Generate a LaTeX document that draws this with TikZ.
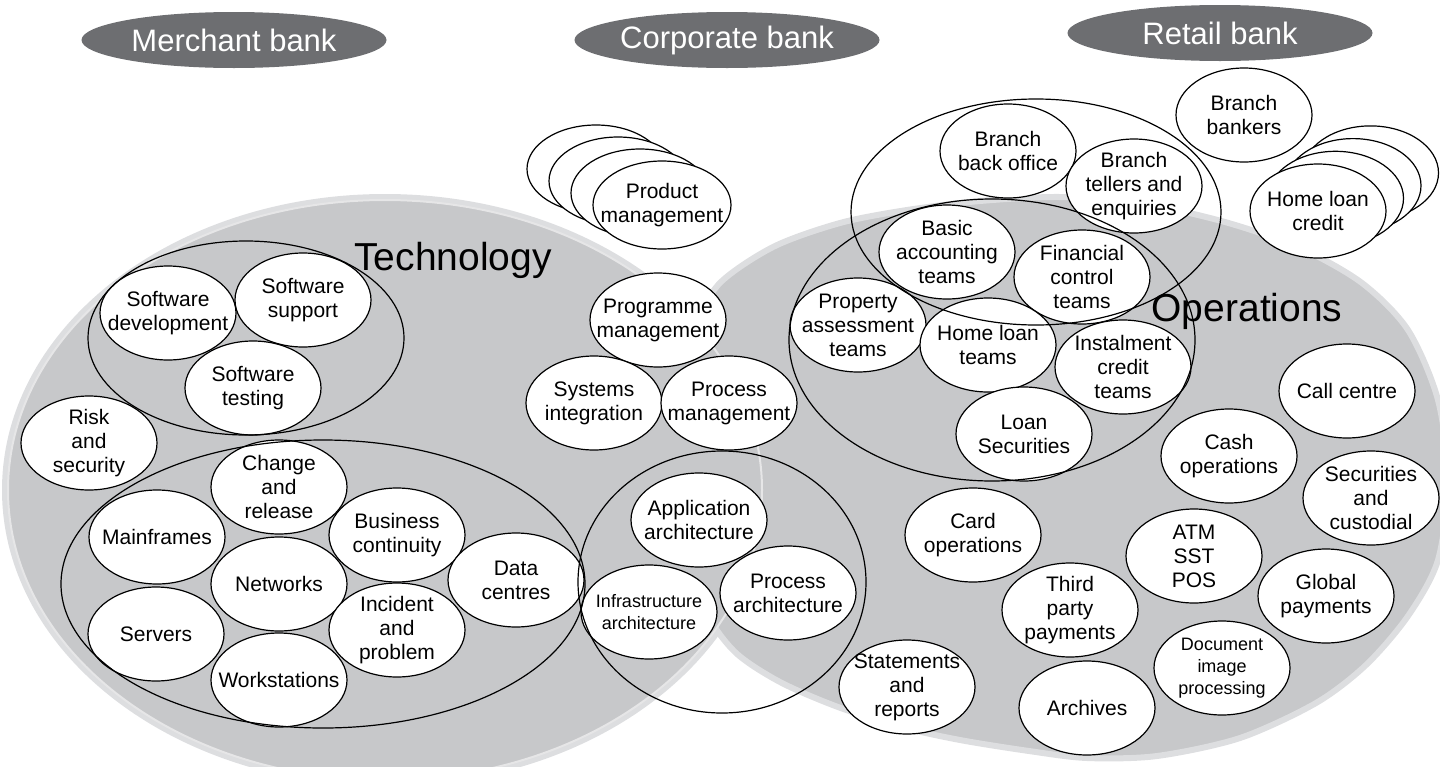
\documentclass[tikz,border=0pt]{standalone}
\usepackage{fontspec}
\setmainfont{Liberation Sans}
\usetikzlibrary{shapes.geometric,calc}

\definecolor{bankgrey}{HTML}{6D6E71}
\definecolor{areagrey}{HTML}{C7C8CA}
\definecolor{rimgrey}{HTML}{DDDEE0}

\tikzset{
  unit/.style={ellipse, draw, fill=white, line width=0.6pt,
    minimum width=68pt, minimum height=47pt, inner xsep=-10pt, inner ysep=-8pt,
    align=center, font=\fontsize{10.5}{12}\selectfont},
  smallunit/.style={unit, font=\fontsize{9}{11}\selectfont},
  bank/.style={ellipse, fill=bankgrey, text=white, minimum width=152.5pt,
    minimum height=28pt, inner sep=0pt, font=\fontsize{15.5}{18}\selectfont},
  area/.style={anchor=base, font=\fontsize{19.5}{22}\selectfont},
  group/.style={draw, line width=0.6pt}
}

\begin{document}
\begin{tikzpicture}[x=0.5pt, y=-0.5pt]
  \useasboundingbox (0,0) rectangle (1440,766);

  % the two big areas
  \fill[rimgrey] (385,490) ellipse [x radius=383, y radius=296];
  \filldraw[fill=areagrey, draw=rimgrey, line width=3pt]
    plot[smooth cycle] coordinates {(700,330) (718,285) (773,247) (840,223)
      (907,210) (980,201) (1060,197) (1140,203) (1225,222) (1300,248)
      (1362,283) (1408,330) (1438,400) (1448,480) (1438,560) (1408,616)
      (1366,665) (1316,703) (1240,738) (1157,756) (1087,758) (1029,751)
      (960,740) (901,727) (838,707) (780,682) (735,652) (706,610) (692,540)
      (688,450)};
  \filldraw[fill=areagrey, draw=white!55!areagrey, line width=1pt]
    (385,490) ellipse [x radius=377, y radius=290];

  \node[area] (techlabel) at (453,270) {Technology};
  \node[area] (opslabel) at (1247,321) {Operations};

  \node[bank] (merchant) at (234,40) {Merchant bank};
  \node[bank] (corporate) at (727,40) {Corporate bank};
  \node[bank] (retail) at (1220,33) {Retail bank};

  % technology
  \node[unit] (sdev) at (168,313) {Software\\development};
  \node[unit] (ssup) at (303,300) {Software\\support};
  \node[unit] (stest) at (253,388) {Software\\testing};
  \node[unit] (risk) at (89,443) {Risk\\and\\security};
  \node[unit] (change) at (279,487) {Change\\and\\release};
  \node[unit] (mainf) at (157,537) {Mainframes};
  \node[unit] (bcont) at (397,535) {Business\\continuity};
  \node[unit] (netw) at (279,584) {Networks};
  \node[unit] (datac) at (516,580) {Data\\centres};
  \node[unit] (serv) at (156,634) {Servers};
  \node[unit] (incid) at (397,630) {Incident\\and\\problem};
  \node[unit] (works) at (279,680) {Workstations};

  % corporate
  \foreach \k in {3,2,1}
    \node[unit, minimum width=69pt, minimum height=44pt] (prodback\k)
      at ($(662,205)+(-22*\k,-12*\k)$) {};
  \node[unit, minimum width=69pt, minimum height=44pt] (prod) at (662,205)
    {Product\\management};
  \node[unit] (progm) at (658,320) {Programme\\management};
  \node[unit] (sysint) at (594,403) {Systems\\integration};
  \node[unit] (procm) at (729,403) {Process\\management};
  \node[unit] (apparch) at (699,520) {Application\\architecture};
  \node[smallunit] (infarch) at (649,612) {Infrastructure\\architecture};
  \node[unit] (procarch) at (788,593) {Process\\architecture};

  % retail
  \node[unit] (bback) at (1008,151) {Branch\\back office};
  \node[unit] (btell) at (1134,186) {Branch\\tellers and\\enquiries};
  \node[unit] (bbank) at (1244,115) {Branch\\bankers};
  \foreach \k in {3,2,1}
    \node[unit] (hlcback\k) at ($(1318,211)+(17.5*\k,-12.7*\k)$) {};
  \node[unit] (hlc) at (1318,211) {Home loan\\credit};
  \node[unit] (basic) at (947,252) {Basic\\accounting\\teams};
  \node[unit] (finc) at (1082,277) {Financial\\control\\teams};
  \node[unit] (prop) at (858,325) {Property\\assessment\\teams};
  \node[unit] (hlt) at (988,345) {Home loan\\teams};
  \node[unit] (inst) at (1123,367) {Instalment\\credit\\teams};
  \node[unit] (loansec) at (1024,434) {Loan\\Securities};
  \node[unit] (call) at (1347,391) {Call centre};
  \node[unit] (cash) at (1229,456) {Cash\\operations};
  \node[unit] (secc) at (1371,498) {Securities\\and\\custodial};
  \node[unit] (card) at (973,535) {Card\\operations};
  \node[unit] (atm) at (1194,556) {ATM\\SST\\POS};
  \node[unit] (third) at (1070,610) {Third\\party\\payments};
  \node[unit] (glob) at (1326,596) {Global\\payments};
  \node[unit] (stmt) at (907,687) {Statements\\and\\reports};
  \node[smallunit] (doc) at (1222,668) {Document\\image\\processing};
  \node[unit] (arch) at (1087,708) {Archives};

  % groupings
  \draw[group] (246,338) ellipse [x radius=158, y radius=97];
  \draw[group] (323,584) ellipse [x radius=262, y radius=144];
  \draw[group] (722,582) ellipse [x radius=144, y radius=131];
  \draw[group] (1036,212) ellipse [x radius=185, y radius=113];
  \draw[group] (992,340) ellipse [x radius=203, y radius=141];
\end{tikzpicture}
\end{document}
